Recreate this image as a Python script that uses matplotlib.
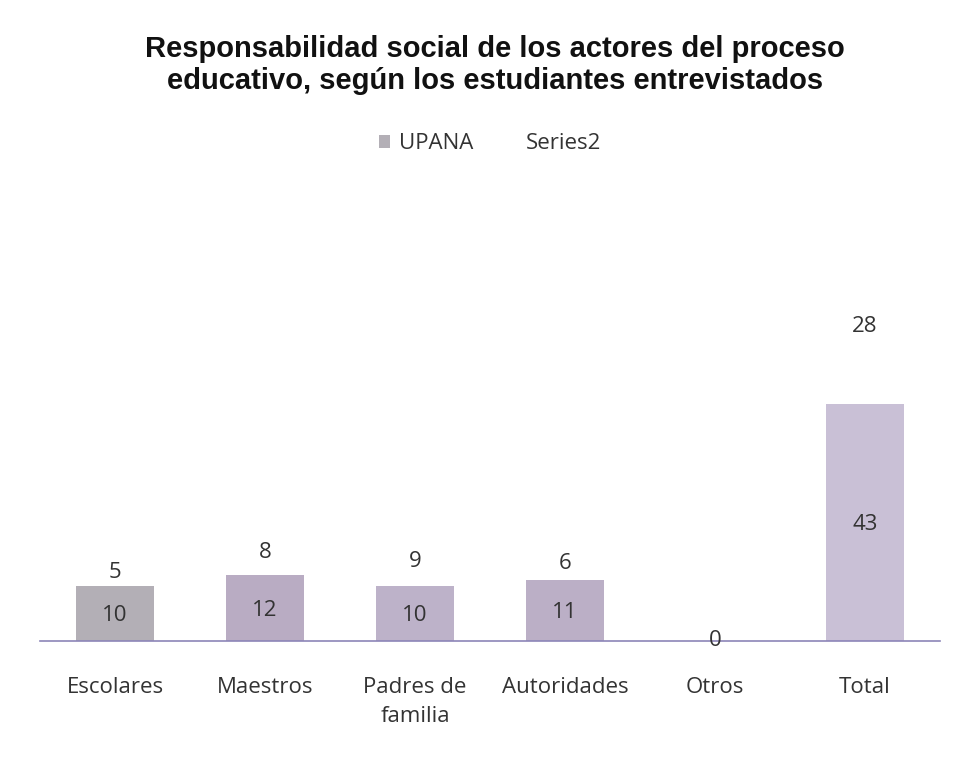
import matplotlib.pyplot as plt
import numpy as np

categorias = ['Escolares', 'Maestros', 'Padres de\nfamilia', 'Autoridades', 'Otros', 'Total']
upana = [10, 12, 10, 11, 0, 43]
series2 = [5, 8, 9, 6, 0, 28]

fig = plt.figure(figsize=(9.61, 7.57), dpi=100)
ax = fig.add_axes([40/961, 116/757, 900/961, (641-200)/757])

x = np.arange(len(categorias))
colores = ['#b3afb6', '#b9acc3', '#bdb2c9', '#bbafc6', '#bbafc6', '#c9c0d6']
b1 = ax.bar(x, upana, width=0.52, color=colores, label='UPANA')
b2 = ax.bar(x, series2, width=0.52, bottom=upana, color='white', label='Series2')

for i in range(len(x)):
    if upana[i] > 0:
        ax.text(x[i], upana[i]/2 - 0.4, str(upana[i]), ha='center', va='center',
                fontsize=16, family='Open Sans', color='#333333')
    ax.text(x[i], upana[i] + series2[i]/2, str(series2[i]), ha='center', va='center',
            fontsize=16, family='Open Sans', color='#333333')

ax.set_xlim(-0.5, 5.5)
ax.set_ylim(0, 80)
ax.set_xticks(x)
ax.set_xticklabels(categorias, fontsize=16, family='Open Sans', color='#333333', linespacing=1.5)
ax.tick_params(axis='x', length=0, pad=26)
ax.set_yticks([])
for s in ['top', 'right', 'left']:
    ax.spines[s].set_visible(False)
ax.spines['bottom'].set_color('#8c85b8')
ax.spines['bottom'].set_linewidth(1.2)

fig.text(0.515, 0.914, 'Responsabilidad social de los actores del proceso\neducativo, según los estudiantes entrevistados',
         ha='center', va='center', fontsize=21, fontweight='bold', family='Liberation Sans',
         color='#111111', linespacing=1.15)

leg = fig.legend(handles=[b1, b2], labels=['UPANA', 'Series2'], loc='center',
                 bbox_to_anchor=(0.51, 0.81), ncol=2, frameon=False,
                 prop={'family': 'Open Sans', 'size': 16}, handlelength=0.5, handleheight=0.5,
                 columnspacing=1.5, handletextpad=0.4)
for t in leg.get_texts():
    t.set_color('#333333')

fig.savefig('out.png', dpi=100)
